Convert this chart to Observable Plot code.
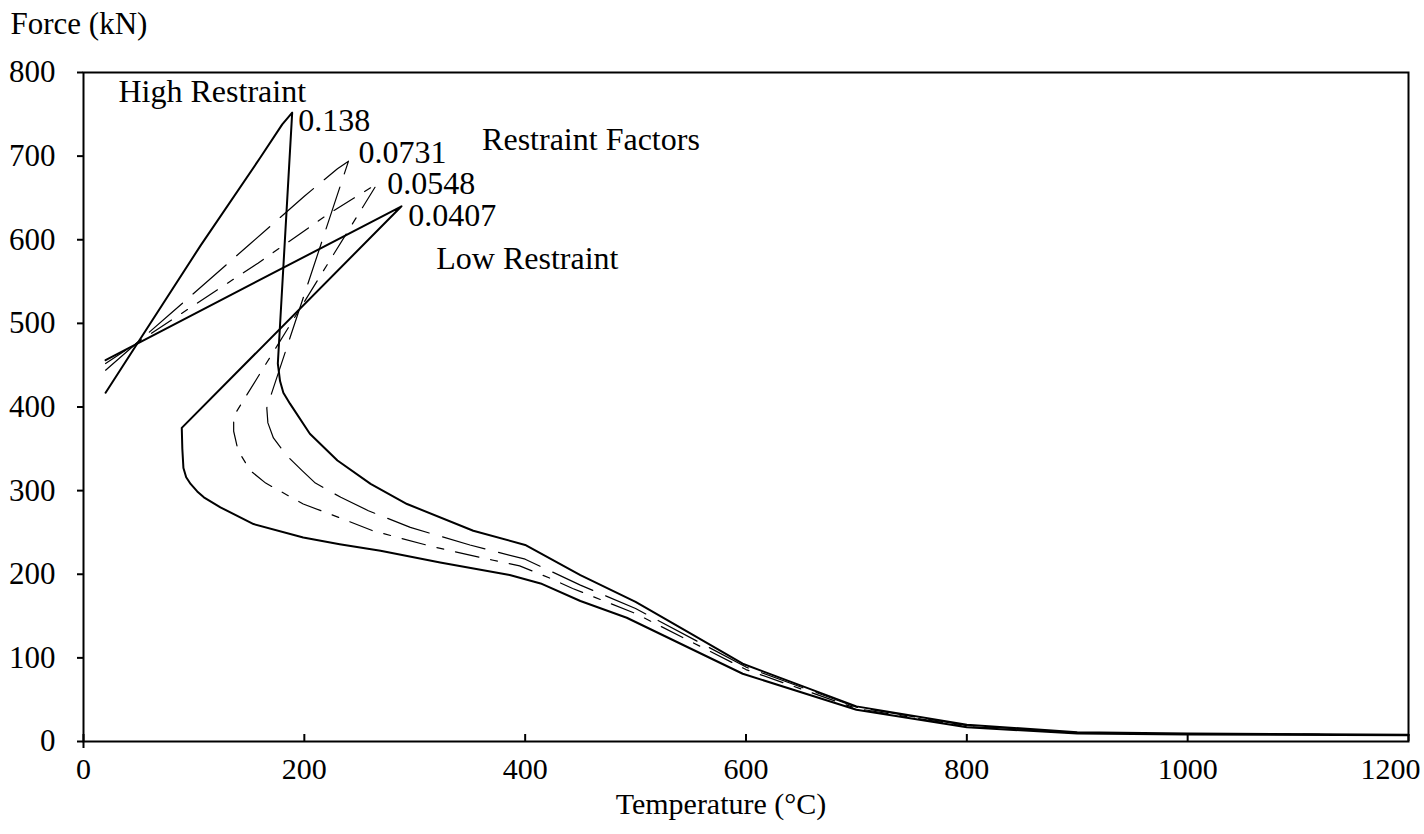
<!DOCTYPE html>
<html>
<head>
<meta charset="utf-8">
<script src="https://cdn.jsdelivr.net/npm/d3@7"></script>
<script src="https://cdn.jsdelivr.net/npm/@observablehq/plot@0.6"></script>
<style>
  html, body { margin: 0; padding: 0; background: #fff; }
  #chart { width: 1424px; height: 834px; }
</style>
</head>
<body>
<div id="chart"></div>
<script>
// ---- data (Temperature °C, Force kN) ----
const xTicks = [0, 200, 400, 600, 800, 1000, 1200];
const yTicks = [0, 100, 200, 300, 400, 500, 600, 700, 800];

// restraint factor 0.138 (high restraint, solid)
const r138 = [[20,417],[60,499],[106,593],[160,698],[180,738],[189,752],[176,452],[178,431],[181,417],[187,404],[205,368],[230,336],[260,308],[293,284],[353,252],[400,235],[450,199],[500,167],[550,129],[597,93],[700,42],[800,20],[900,11],[1000,9.5],[1200,8]];
// restraint factor 0.0731 (long dash)
const r0731 = [[20,444],[80,513],[150,594],[200,652],[230,685],[240,694],[166,399],[167,381],[172,363],[184,342],[198,324],[210,309],[233,292],[258,276],[296,256],[350,235],[400,218],[450,187],[500,159],[600,89],[700,41],[800,19],[900,10.5],[1000,9],[1200,8]];
// restraint factor 0.0548 (dash-dot)
const r0548 = [[20,452],[158,572],[222,631],[266,667],[136,389],[136,371],[140,348],[151,324],[165,309],[180,298],[199,284],[231,268],[262,252],[316,233],[370,217],[395,210],[423,195],[443,183],[500,153],[600,86],[700,39.5],[800,18],[900,10],[1000,9],[1200,8]];
// restraint factor 0.0407 (low restraint, solid)
const r0407 = [[20,456],[288,640],[89,375],[89.5,350],[90.5,327],[93,316],[97,308],[103,299],[109,292],[124,280],[154,260],[199,244],[232,236],[269,228],[323,214],[386,199],[414,189],[450,168],[492,148],[597,81],[700,38],[800,17],[900,9.5],[1000,8.5],[1200,7.5]];

const factorLabels = ["0.138", "0.0731", "0.0548", "0.0407"];
const noteLabels = ["High Restraint", "Restraint Factors", "Low Restraint"];
const xTitle = "Temperature (°C)";
const yTitle = "Force (kN)";

// ---- chart ----
const W = 1424, H = 834;
const mL = 83, mR = 16, mT = 72, mB = 93;
const plotH = H - mT - mB;
const FONT = "Liberation Serif, Times New Roman, serif";

const lineOpts = (dash, w) => ({
  x: d => d[0], y: d => d[1], stroke: "black", strokeWidth: w,
  strokeDasharray: dash, curve: "linear", strokeLinejoin: "round"
});

const textOpts = {fill: "black", textAnchor: "start", lineAnchor: "bottom", fontSize: 32};
const tickLabelOpts = {fill: "black", textAnchor: "middle", lineAnchor: "top", fontSize: 30, frameAnchor: "bottom", dy: 16};

const chart = Plot.plot({
  width: W, height: H,
  marginLeft: mL, marginRight: mR, marginTop: mT, marginBottom: mB,
  style: {fontFamily: FONT, fontSize: "31px", background: "white", color: "black", overflow: "visible"},
  x: {domain: [0, 1200], axis: null},
  y: {domain: [0, 800]},
  marks: [
    Plot.line(r0731, lineOpts("44,14", 1.2)),
    Plot.line(r0548, lineOpts("24,12,7,12", 1.2)),
    Plot.line(r138, lineOpts(null, 2)),
    Plot.line(r0407, lineOpts(null, 2)),
    Plot.frame({stroke: "black", strokeWidth: 2}),
    Plot.axisY({ticks: yTicks, tickSize: 6, tickPadding: 22, tickFormat: d => String(d), label: null, fontSize: 31, strokeWidth: 2}),
    // x tick labels (last one nudged left so it stays inside the picture, as in the reference)
    Plot.text(xTicks.slice(0, -1), {...tickLabelOpts, x: d => d, text: d => String(d)}),
    Plot.text(xTicks.slice(-1), {...tickLabelOpts, x: d => d, dx: -18, text: d => String(d)}),
    Plot.tickX(xTicks, {x: d => d, insetTop: plotH - 7, stroke: "black", strokeWidth: 2}),
    Plot.tickX([0], {x: d => d, insetTop: plotH, insetBottom: -7, stroke: "black", strokeWidth: 2}),
    Plot.text([factorLabels[0]], {...textOpts, x: 194.6, y: 730.5, text: d => d}),
    Plot.text([factorLabels[1]], {...textOpts, x: 249, y: 692, text: d => d}),
    Plot.text([factorLabels[2]], {...textOpts, x: 275, y: 655, text: d => d}),
    Plot.text([factorLabels[3]], {...textOpts, x: 294, y: 617, text: d => d}),
    Plot.text([noteLabels[0]], {...textOpts, x: 31.7, y: 765, text: d => d}),
    Plot.text([noteLabels[1]], {...textOpts, x: 361, y: 707, text: d => d}),
    Plot.text([noteLabels[2]], {...textOpts, x: 319.5, y: 565, text: d => d}),
    Plot.text([yTitle], {...textOpts, fontSize: 31, frameAnchor: "top-left", dx: 10 - mL, dy: 33 - mT, text: d => d}),
    Plot.text([xTitle], {...textOpts, fontSize: 30, textAnchor: "middle", frameAnchor: "bottom", dx: -25, dy: 72, text: d => d})
  ]
});
document.getElementById("chart").appendChild(chart);
</script>
</body>
</html>
